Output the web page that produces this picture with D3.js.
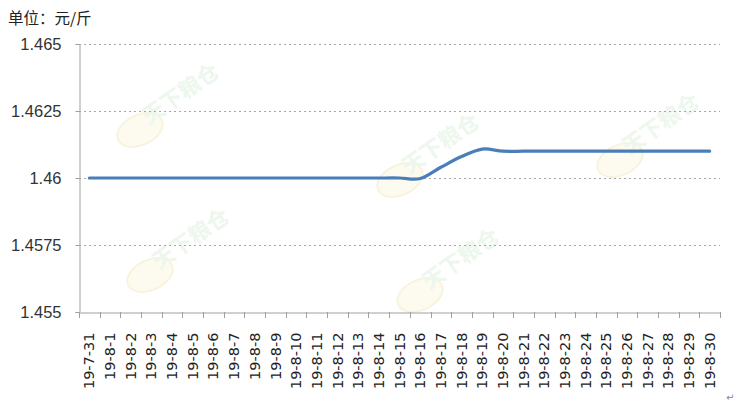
<!DOCTYPE html>
<html><head><meta charset="utf-8">
<script src="https://cdn.jsdelivr.net/npm/d3@7"></script>
<style>body{margin:0;background:#fff}svg{display:block}</style>
</head><body>
<svg id="c" width="736" height="406"></svg>
<script>
const categories = ["19-7-31","19-8-1","19-8-2","19-8-3","19-8-4","19-8-5","19-8-6","19-8-7","19-8-8","19-8-9","19-8-10","19-8-11","19-8-12","19-8-13","19-8-14","19-8-15","19-8-16","19-8-17","19-8-18","19-8-19","19-8-20","19-8-21","19-8-22","19-8-23","19-8-24","19-8-25","19-8-26","19-8-27","19-8-28","19-8-29","19-8-30"];
const values = [1.46,1.46,1.46,1.46,1.46,1.46,1.46,1.46,1.46,1.46,1.46,1.46,1.46,1.46,1.46,1.46,1.45998,1.4604,1.4608,1.46108,1.461,1.461,1.461,1.461,1.461,1.461,1.461,1.461,1.461,1.461,1.461];
const yTicks = [1.455,1.4575,1.46,1.4625,1.465];
const yTickLabels = ["1.455","1.4575","1.46","1.4625","1.465"];
const unitLabel = "单位：元/斤";

const svg = d3.select("#c");
const L = 79, R = 720, T = 44, B = 312;
const x = d3.scaleBand().domain(categories).range([L, R]);
const y = d3.scaleLinear().domain([1.455, 1.465]).range([B, T]);

// watermarks
const wm = svg.append("g");
[[185,100],[195,245],[445,150],[465,265],[665,130]].forEach(([cx,cy])=>{
  wm.append("ellipse").attr("cx",cx-45).attr("cy",cy+30).attr("rx",24).attr("ry",15)
    .attr("transform",`rotate(-25,${cx-45},${cy+30})`)
    .attr("fill","#fdfbef").attr("stroke","#f8f3dc").attr("stroke-width",2);
  wm.append("text").attr("x",cx).attr("y",cy).attr("transform",`rotate(-35,${cx},${cy})`)
    .attr("text-anchor","middle").attr("font-family","Noto Sans CJK SC").attr("font-weight","bold")
    .attr("font-size",22).attr("fill","#edf7ed").text("天下粮仓");
});

// gridlines
svg.append("g").selectAll("line").data(yTicks.filter(d=>d!==1.455)).join("line")
  .attr("x1",L).attr("x2",R).attr("y1",d=>Math.round(y(d))+0.5).attr("y2",d=>Math.round(y(d))+0.5)
  .attr("stroke","#a6a6a6").attr("stroke-dasharray","2,3");

// y axis
const ya = svg.append("g").attr("transform",`translate(${L+0.5},0)`)
  .call(d3.axisLeft(y).tickValues(yTicks).tickFormat((d,i)=>yTickLabels[i]).tickSize(4).tickPadding(14));
ya.select(".domain").attr("stroke","#a0a0a0");
ya.selectAll(".tick line").attr("stroke","#a0a0a0");
ya.selectAll(".tick text").attr("font-family","Liberation Sans, Arial").attr("font-size",16.5).attr("fill","#333");

// x axis
const xa = svg.append("g").attr("transform",`translate(0,${B+0.5})`)
  .call(d3.axisBottom(x).tickSize(0).tickPadding(0));
xa.select(".domain").attr("stroke","#a0a0a0");
xa.selectAll(".tick line").remove();
xa.selectAll(".tick text").attr("font-family","DejaVu Sans").attr("font-size",14.5).attr("fill","#222")
  .attr("text-anchor","end").attr("dy","0.35em").attr("transform","translate(0,20) rotate(-90)");
const bounds = categories.map(c=>x(c)).concat([R]);
svg.append("g").selectAll("line").data(bounds).join("line")
  .attr("x1",d=>Math.round(d)+0.5).attr("x2",d=>Math.round(d)+0.5).attr("y1",B).attr("y2",B+6)
  .attr("stroke","#a0a0a0");

// line
const line = d3.line().x((d,i)=>x(categories[i])+x.bandwidth()/2).y(d=>y(d)).curve(d3.curveCatmullRom.alpha(0));
svg.append("path").datum(values).attr("d",line).attr("fill","none")
  .attr("stroke","#4a7ebb").attr("stroke-width",3.2).attr("stroke-linecap","round");

// title
svg.append("text").attr("x",8).attr("y",24).attr("font-family","Noto Sans CJK SC").attr("font-size",15.5)
  .attr("fill","#222").text(unitLabel);
svg.append("text").attr("x",726).attr("y",401).attr("font-family","DejaVu Sans").attr("font-size",10)
  .attr("fill","#888").text("↵");
</script>
</body></html>
